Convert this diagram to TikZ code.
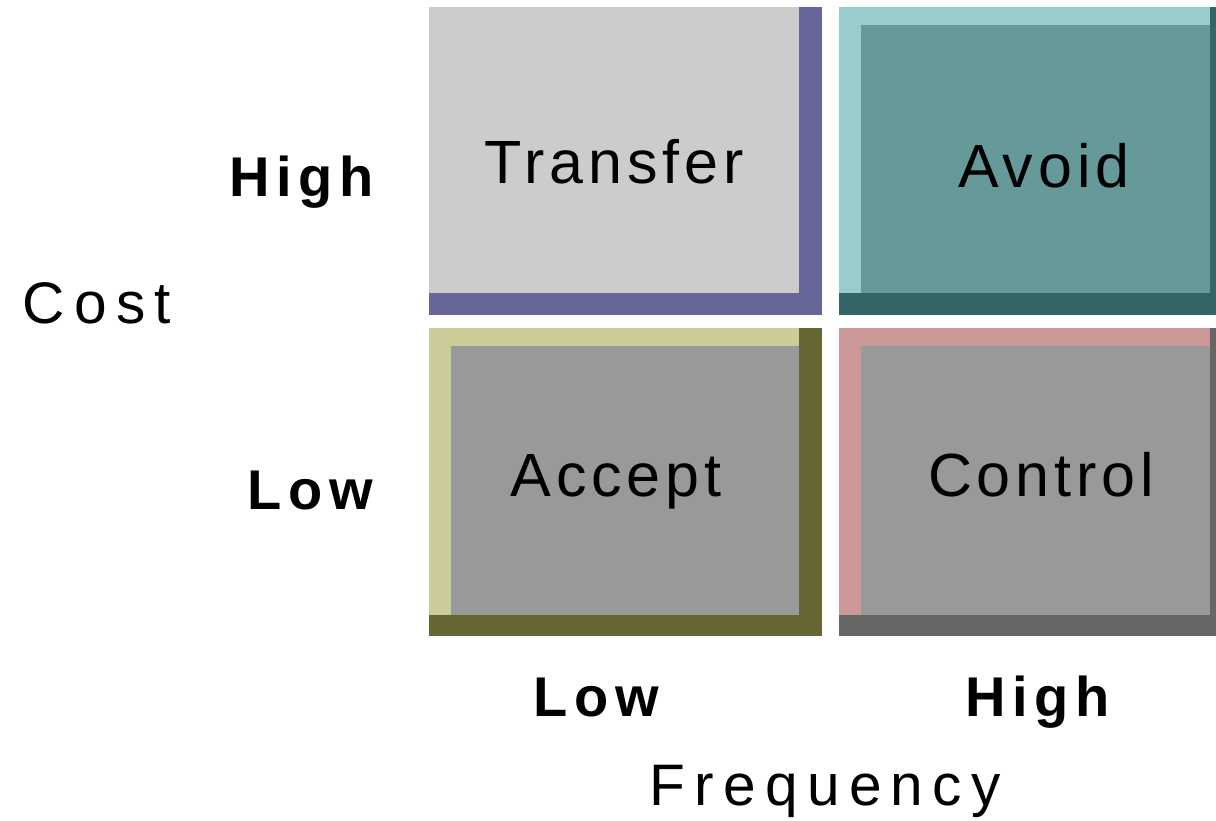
\documentclass[tikz,border=0pt]{standalone}
\usepackage{fontspec}
\setmainfont{Liberation Sans}
\usepackage{tikz}
\usetikzlibrary{positioning,calc}
\definecolor{TransFace}{HTML}{CCCCCC}
\definecolor{TransDark}{HTML}{666699}
\definecolor{AvoidLight}{HTML}{99CCCC}
\definecolor{AvoidFace}{HTML}{669999}
\definecolor{AvoidDark}{HTML}{336666}
\definecolor{AcceptLight}{HTML}{CCCC99}
\definecolor{AcceptDark}{HTML}{666633}
\definecolor{CtrlLight}{HTML}{CC9999}
\definecolor{CtrlDark}{HTML}{666666}
\definecolor{GreyFace}{HTML}{999999}

\begin{document}
\begin{tikzpicture}[
  x=1pt,y=-1pt,
  quad/.style={rectangle,inner sep=0pt,minimum width=393pt,minimum height=308pt},
  quadtext/.style={anchor=base,inner sep=0pt,font=\fontsize{61}{61}\selectfont\addfontfeatures{LetterSpace=8}},
  axistext/.style={anchor=base,inner sep=0pt,font=\fontsize{58.6}{59}\selectfont\addfontfeatures{LetterSpace=16}},
  levtext/.style={anchor=base,inner sep=0pt,font=\fontsize{56}{56}\selectfont\bfseries\addfontfeatures{LetterSpace=12}}
]
\clip (0,0) rectangle (1216,820);

% the four quadrants
\node[quad,fill=TransDark] (transfer) at (625.5,161) {};
\node[quad,fill=AvoidDark,right=17pt of transfer] (avoid) {};
\node[quad,fill=AcceptDark,below=13pt of transfer] (accept) {};
\node[quad,fill=CtrlDark,right=17pt of accept] (control) {};

% bevel edges and faces
\foreach \bx/\lt/\fc in {transfer/TransFace/TransFace,avoid/AvoidLight/AvoidFace,
                         accept/AcceptLight/GreyFace,control/CtrlLight/GreyFace} {
  \fill[\lt] (\bx.north west) rectangle ($(\bx.south east)+(-23,-22)$);
  \fill[\fc] ($(\bx.north west)+(22,18)$) rectangle ($(\bx.south east)+(-23,-22)$);
}

\node[quadtext] (transferlab) at (614,183) {Transfer};
\node[quadtext] (avoidlab) at (1044,187) {Avoid};
\node[quadtext] (acceptlab) at (616,496) {Accept};
\node[quadtext] (controllab) at (1041,496) {Control};

% axes
\node[levtext] (costhigh) at (301.5,196) {High};
\node[levtext] (costlow) at (310.5,509) {Low};
\node[axistext] (cost) at (97,323) {Cost};
\node[levtext] (freqlow) at (596,716) {Low};
\node[levtext] (freqhigh) at (1037.5,716) {High};
\node[axistext] (freq) at (825,805) {Frequency};

\end{tikzpicture}
\end{document}
